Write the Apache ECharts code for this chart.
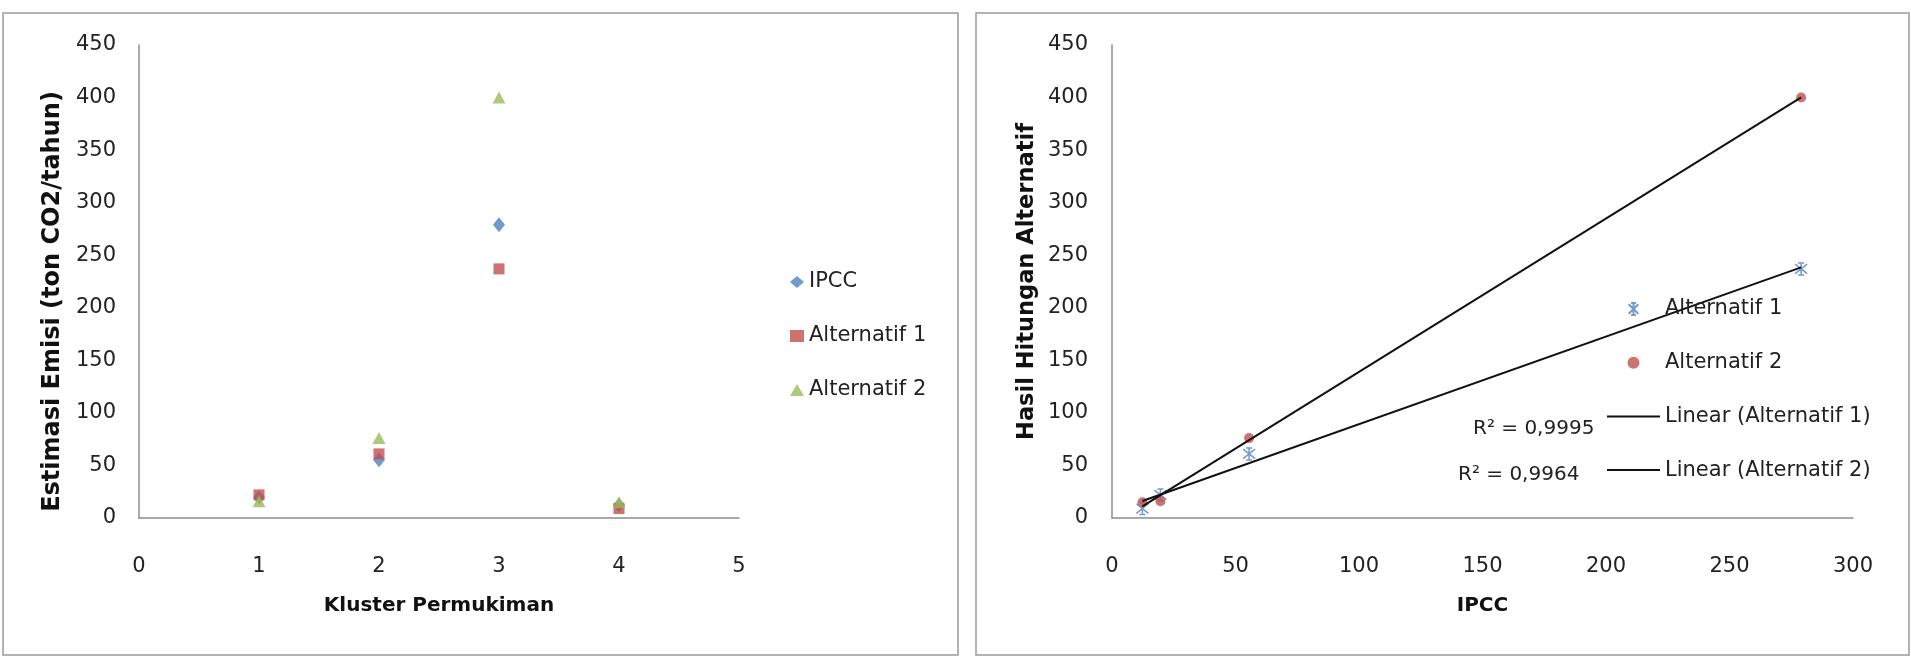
<!DOCTYPE html>
<html>
<head>
<meta charset="utf-8">
<script src="https://cdn.jsdelivr.net/npm/echarts@6/dist/echarts.min.js"></script>
<style>
  html, body { margin: 0; padding: 0; background: #fff; }
  #main { width: 1911px; height: 657px; }
</style>
</head>
<body>
<div id="main"></div>
<script>
// cluster numbers (left chart x)
const clusters = [1, 2, 3, 4]
// emission estimates per cluster
const ipcc = [19.6, 55.5, 279, 12.3]
const alt1 = [22, 61, 237, 9]
const alt2 = [16, 76, 400, 15]
// R squared texts of the trend lines
const r2Alt1 = 'R² = 0,9964'
const r2Alt2 = 'R² = 0,9995'

const FONT = 'DejaVu Sans'
const BLUE = '#4F81BD'
const RED = '#C0504D'
const GREEN = '#9BBB59'
const ASTER = 'path://M5,0L5,10M1,1L9,9M9,1L1,9M3,0L7,0M3,10L7,10'
const LINE_ICON = 'path://M0,0L53,0L53,2L0,2Z'

// least squares line from min x to max x
function trend(xs, ys) {
  const n = xs.length
  const mx = xs.reduce((a, b) => a + b, 0) / n
  const my = ys.reduce((a, b) => a + b, 0) / n
  let sxy = 0, sxx = 0
  for (let i = 0; i < n; i++) {
    sxy += (xs[i] - mx) * (ys[i] - my)
    sxx += (xs[i] - mx) * (xs[i] - mx)
  }
  const b = sxy / sxx
  const a = my - b * mx
  const x0 = Math.min(...xs), x1 = Math.max(...xs)
  return [[x0, a + b * x0], [x1, a + b * x1]]
}

const pairs = (xs, ys) => xs.map((x, i) => [x, ys[i]])

const chart = echarts.init(document.getElementById('main'))

const axisLine = { lineStyle: { color: '#8c8c8c', width: 1.5 } }
const axisLabel = { color: '#222', fontFamily: FONT, fontSize: 21 }

const option = {
  animation: false,
  textStyle: { fontFamily: FONT },
  graphic: [
    { type: 'rect', shape: { x: 3, y: 13, width: 955, height: 642 }, style: { fill: 'none', stroke: '#9a9a9a', lineWidth: 1.5 } },
    { type: 'rect', shape: { x: 976, y: 13, width: 933, height: 642 }, style: { fill: 'none', stroke: '#9a9a9a', lineWidth: 1.5 } },
    { type: 'text', left: 1473, top: 419, style: { text: r2Alt2, fontFamily: FONT, fontSize: 20, fill: '#222' } },
    { type: 'text', left: 1458, top: 465, style: { text: r2Alt1, fontFamily: FONT, fontSize: 20, fill: '#222' } }
  ],
  grid: [
    { left: 139, right: 1172, top: 45, bottom: 139 },
    { left: 1112, right: 58, top: 45, bottom: 139 }
  ],
  legend: [
    {
      orient: 'vertical', left: 785, top: 266,
      itemWidth: 14, itemHeight: 12, itemGap: 32,
      textStyle: { fontFamily: FONT, fontSize: 21, lineHeight: 22, color: '#222' },
      data: ['IPCC', 'Alternatif 1', 'Alternatif 2']
    },
    {
      orient: 'vertical', left: 1602, top: 293,
      itemWidth: 53, itemHeight: 12, itemGap: 31.7,
      textStyle: { fontFamily: FONT, fontSize: 21, lineHeight: 22, color: '#222' },
      data: [
        'Alternatif 1 ',
        'Alternatif 2 ',
        { name: 'Linear (Alternatif 1)', icon: LINE_ICON },
        { name: 'Linear (Alternatif 2)', icon: LINE_ICON }
      ]
    }
  ],
  xAxis: [
    {
      gridIndex: 0, type: 'value', min: 0, max: 5, interval: 1,
      name: 'Kluster Permukiman', nameLocation: 'middle', nameGap: 78,
      nameTextStyle: { fontFamily: FONT, fontSize: 20, fontWeight: 'bold', color: '#111' },
      axisLine: axisLine, axisTick: { show: false }, splitLine: { show: false },
      axisLabel: Object.assign({ margin: 38 }, axisLabel)
    },
    {
      gridIndex: 1, type: 'value', min: 0, max: 300, interval: 50,
      name: 'IPCC', nameLocation: 'middle', nameGap: 78,
      nameTextStyle: { fontFamily: FONT, fontSize: 20, fontWeight: 'bold', color: '#111' },
      axisLine: axisLine, axisTick: { show: false }, splitLine: { show: false },
      axisLabel: Object.assign({ margin: 38 }, axisLabel)
    }
  ],
  yAxis: [
    {
      gridIndex: 0, type: 'value', min: 0, max: 450, interval: 50,
      name: 'Estimasi Emisi (ton CO2/tahun)', nameLocation: 'middle', nameGap: 74,
      nameTextStyle: { fontFamily: FONT, fontSize: 24, fontWeight: 'bold', color: '#111', padding: [0, 40, 0, 0] },
      axisLine: axisLine, axisTick: { show: false }, splitLine: { show: false },
      axisLabel: Object.assign({ margin: 23 }, axisLabel)
    },
    {
      gridIndex: 1, type: 'value', min: 0, max: 450, interval: 50,
      name: 'Hasil Hitungan Alternatif', nameLocation: 'middle', nameGap: 73,
      nameTextStyle: { fontFamily: FONT, fontSize: 22.5, fontWeight: 'bold', color: '#111' },
      axisLine: axisLine, axisTick: { show: false }, splitLine: { show: false },
      axisLabel: Object.assign({ margin: 24 }, axisLabel)
    }
  ],
  series: [
    {
      name: 'IPCC', type: 'scatter', xAxisIndex: 0, yAxisIndex: 0,
      symbol: 'diamond', symbolSize: [12, 15], itemStyle: { color: BLUE },
      data: pairs(clusters, ipcc)
    },
    {
      name: 'Alternatif 1', type: 'scatter', xAxisIndex: 0, yAxisIndex: 0,
      symbol: 'rect', symbolSize: 11, itemStyle: { color: RED },
      data: pairs(clusters, alt1)
    },
    {
      name: 'Alternatif 2', type: 'scatter', xAxisIndex: 0, yAxisIndex: 0,
      symbol: 'triangle', symbolSize: [13, 12], itemStyle: { color: GREEN },
      data: pairs(clusters, alt2)
    },
    {
      name: 'Alternatif 1 ', type: 'scatter', xAxisIndex: 1, yAxisIndex: 1,
      symbol: ASTER, symbolSize: 12,
      itemStyle: { color: 'none', borderColor: BLUE, borderWidth: 1.5 },
      data: pairs(ipcc, alt1)
    },
    {
      name: 'Alternatif 2 ', type: 'scatter', xAxisIndex: 1, yAxisIndex: 1,
      symbol: 'circle', symbolSize: 10, itemStyle: { color: RED },
      data: pairs(ipcc, alt2)
    },
    {
      name: 'Linear (Alternatif 1)', type: 'line', xAxisIndex: 1, yAxisIndex: 1,
      symbol: 'none', itemStyle: { color: '#111' }, lineStyle: { color: '#111', width: 2 },
      data: trend(ipcc, alt1)
    },
    {
      name: 'Linear (Alternatif 2)', type: 'line', xAxisIndex: 1, yAxisIndex: 1,
      symbol: 'none', itemStyle: { color: '#111' }, lineStyle: { color: '#111', width: 2 },
      data: trend(ipcc, alt2)
    }
  ]
}

chart.setOption(option)
</script>
</body>
</html>
